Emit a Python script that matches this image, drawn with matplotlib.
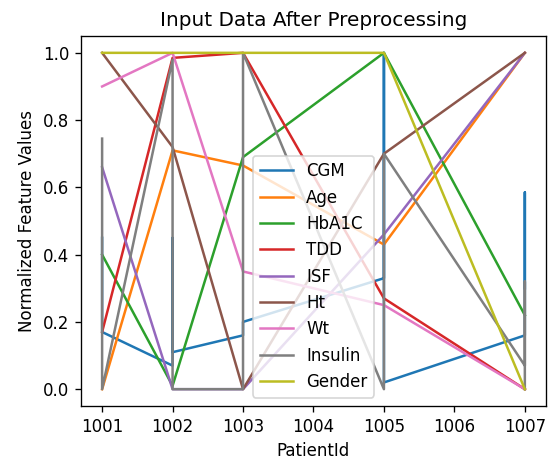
import matplotlib
matplotlib.use("Agg")
import matplotlib.pyplot as plt
import pandas as pd

# Three readings per patient
patient_ids = [1001] * 3 + [1002] * 3 + [1003] * 3 + [1005] * 3 + [1007] * 3

# Time-varying features (per row)
cgm = [0.45, 0.30, 0.17,
       0.07, 0.45, 0.11,
       0.16, 0.18, 0.20,
       0.33, 1.00, 0.02,
       0.16, 0.585, 0.30]
insulin = [0.745, 0.0, 0.0,
           0.98, 0.0, 0.0,
           0.0, 0.5, 1.0,
           0.0, 0.4, 0.7,
           0.07, 0.32, 0.0]

# Per-patient constant features (one value per patient)
patients = [1001, 1002, 1003, 1005, 1007]
age = [0.0, 0.71, 0.665, 0.43, 1.0]
hba1c = [0.40, 0.01, 0.69, 1.0, 0.22]
tdd = [0.17, 0.985, 1.0, 0.27, 0.0]
isf = [0.66, 0.0, 0.0, 0.46, 1.0]
ht = [1.0, 0.72, 0.0, 0.70, 1.0]
wt = [0.90, 1.0, 0.35, 0.25, 0.0]
gender = [1.0, 1.0, 1.0, 1.0, 0.0]

rows_per_patient = 3


def expand(vals):
    out = []
    for v in vals:
        out += [v] * rows_per_patient
    return out


df = pd.DataFrame({
    "PatientId": patient_ids,
    "CGM": cgm,
    "Age": expand(age),
    "HbA1C": expand(hba1c),
    "TDD": expand(tdd),
    "ISF": expand(isf),
    "Ht": expand(ht),
    "Wt": expand(wt),
    "Insulin": insulin,
    "Gender": expand(gender),
})

fig = plt.figure(figsize=(549 / 120, 460 / 120), dpi=120)
ax = fig.add_subplot(111)
fig.subplots_adjust(left=0.1475, right=0.9945, top=0.9217, bottom=0.1174)

for col in ["CGM", "Age", "HbA1C", "TDD", "ISF", "Ht", "Wt", "Insulin", "Gender"]:
    ax.plot(df["PatientId"], df[col], label=col)

ax.set_title("Input Data After Preprocessing")
ax.set_xlabel("PatientId")
ax.set_ylabel("Normalized Feature Values")
ax.legend(loc="lower center")

fig.savefig("out.png", dpi=120)
